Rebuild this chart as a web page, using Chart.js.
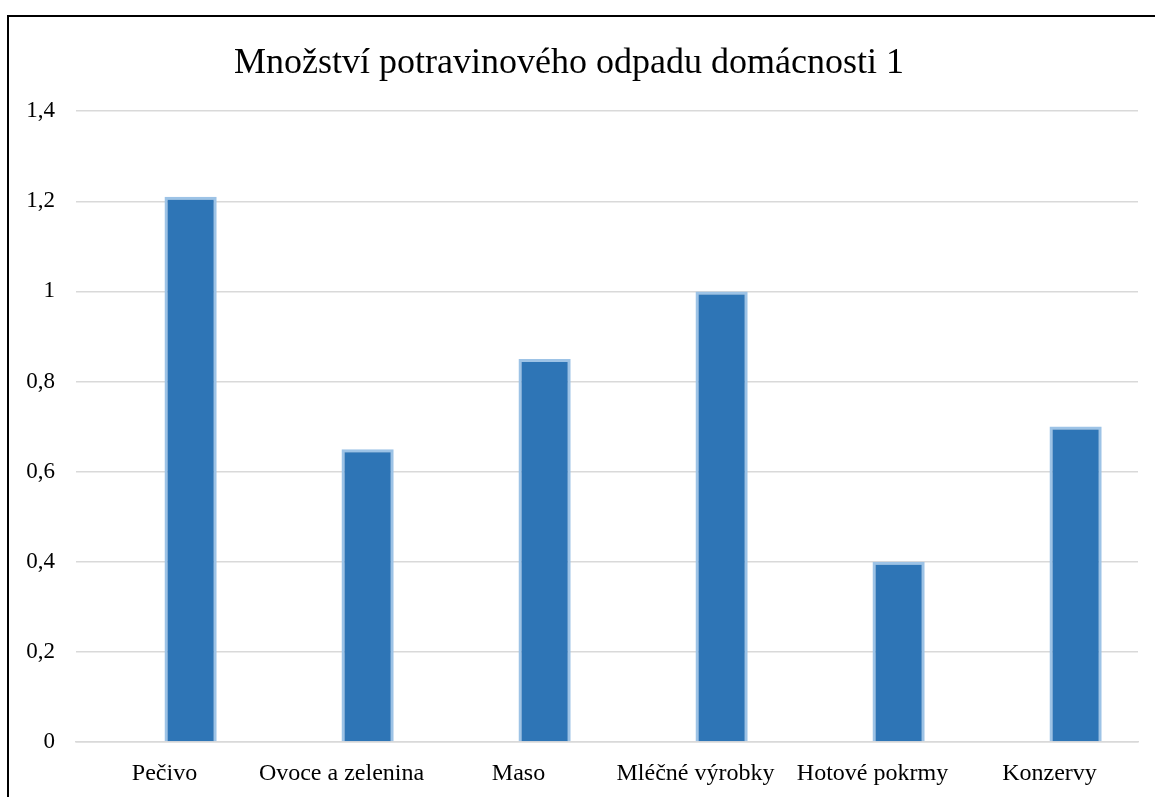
<!DOCTYPE html>
<html>
<head>
<meta charset="utf-8">
<script src="https://cdn.jsdelivr.net/npm/chart.js@4.4.1/dist/chart.umd.min.js"></script>
<style>
  html, body { margin: 0; padding: 0; background: #fff; overflow: hidden; }
  #frame { position: absolute; left: 7px; top: 15px; width: 1300px; height: 900px; border: 2px solid #000; box-sizing: border-box; }
  #wrap { position: absolute; left: 0; top: 0; width: 1155px; height: 797px; }
</style>
</head>
<body>
<div id="frame"></div>
<div id="wrap"><canvas id="c" width="1155" height="797"></canvas></div>
<script>
const categories = ["Pečivo", "Ovoce a zelenina", "Maso", "Mléčné výrobky", "Hotové pokrmy", "Konzervy"];
const emptySeries = [null, null, null, null, null, null];
const wasteValues = [1.21, 0.65, 0.85, 1.0, 0.4, 0.7];
const yTickLabels = ["0", "0,2", "0,4", "0,6", "0,8", "1", "1,2", "1,4"];
const chartTitle = "Množství potravinového odpadu domácnosti 1";

const serif = '"Liberation Serif", "Times New Roman", serif';

new Chart(document.getElementById('c'), {
  type: 'bar',
  data: {
    labels: categories,
    datasets: [
      { label: "", data: emptySeries, backgroundColor: '#2E75B6' },
      {
        label: "Odpad",
        data: wasteValues,
        backgroundColor: '#2E75B6',
        borderColor: '#9DC3E6',
        borderWidth: 3
      }
    ]
  },
  options: {
    responsive: false,
    animation: false,
    devicePixelRatio: 1,
    layout: { padding: { left: 0, right: 17, top: 0, bottom: 0 } },
    datasets: { bar: { barPercentage: 1.0, categoryPercentage: 0.59 } },
    plugins: {
      legend: { display: false },
      tooltip: { enabled: false },
      title: {
        display: true,
        text: chartTitle,
        color: '#000',
        font: { family: serif, size: 36, weight: 'normal', lineHeight: 1.2 },
        padding: { top: 42, bottom: 26 }
      }
    },
    scales: {
      x: {
        afterFit: (axis) => { axis.height = 55; },
        grid: { display: false, drawTicks: false },
        border: { display: true, color: '#d9d9d9', width: 1.5 },
        ticks: {
          color: '#000',
          padding: 17,
          maxRotation: 0,
          autoSkip: false,
          font: { family: serif, size: 24 }
        }
      },
      y: {
        min: 0,
        max: 1.4,
        afterFit: (axis) => { axis.width = 76; },
        grid: { color: '#d9d9d9', lineWidth: 1.5, drawTicks: false },
        border: { display: false },
        ticks: {
          stepSize: 0.2,
          color: '#000',
          padding: 21,
          font: { family: serif, size: 23 },
          callback: (v, i) => yTickLabels[i]
        }
      }
    }
  }
});
</script>
</body>
</html>
